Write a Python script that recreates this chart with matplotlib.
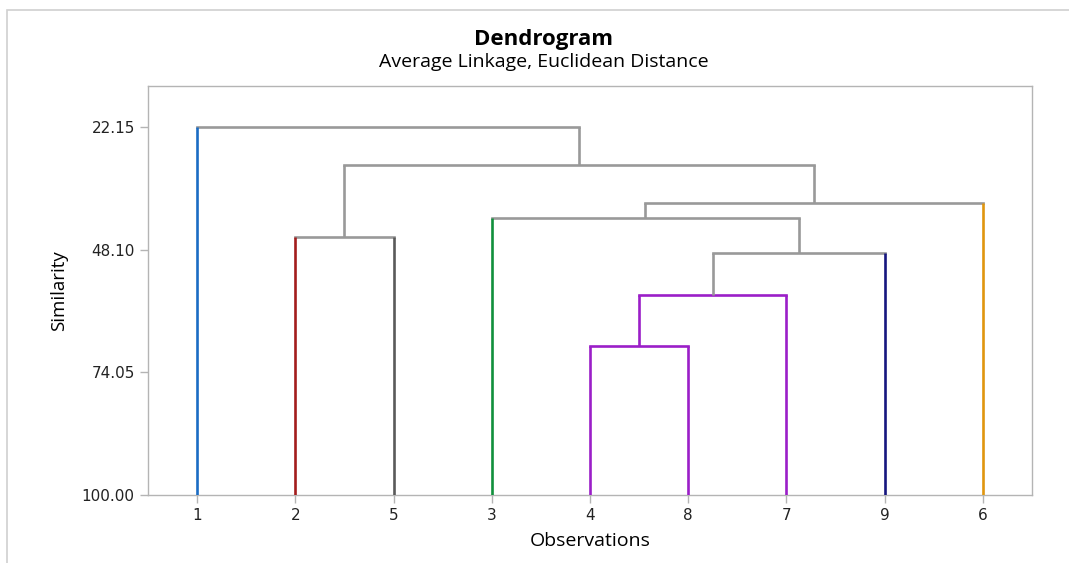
import matplotlib.pyplot as plt
from matplotlib.patches import Rectangle

# leaf order along the x axis
leaves = ['1', '2', '5', '3', '4', '8', '7', '9', '6']
leaf_colors = {'1': '#1a6cc4', '2': '#a31d1d', '5': '#5a5a5a', '3': '#11903c',
               '4': '#9b1ec8', '8': '#9b1ec8', '7': '#9b1ec8', '9': '#16167f',
               '6': '#e0960f'}

# merges: (left, right, similarity, colour of link); ids are leaf labels or 'cN'
merge_left = ['4', 'c0', 'c1', '3', '2', 'c3', 'c4', '1']
merge_right = ['8', '7', '9', 'c2', '5', '6', 'c5', 'c6']
merge_sim = [68.45, 57.70, 48.80, 41.40, 45.40, 38.20, 30.20, 22.15]
merge_color = ['#9b1ec8', '#9b1ec8', '#999999', '#999999', '#999999',
               '#999999', '#999999', '#999999']

yticks = [22.15, 48.10, 74.05, 100.00]

fig = plt.figure(figsize=(10.69, 5.63), dpi=100)
fig.patches.append(Rectangle((7 / 1069, -0.1), 1.2, 1 - 10 / 563 + 0.1,
                             transform=fig.transFigure, fill=False,
                             edgecolor='#d0d0d0', linewidth=1.2))
ax = fig.add_axes([148 / 1069, 1 - 495 / 563, (1032 - 148) / 1069, (495 - 86) / 563])

pos = {lab: i + 1 for i, lab in enumerate(leaves)}
height = {lab: 100.0 for lab in leaves}
lw = 1.9
for i in range(len(merge_sim)):
    a, b, s, c = merge_left[i], merge_right[i], merge_sim[i], merge_color[i]
    for k in (a, b):
        kc = leaf_colors[k] if k in leaf_colors else c
        ax.plot([pos[k], pos[k]], [height[k], s], color=kc, lw=lw,
                solid_capstyle='butt', zorder=3 if k in leaf_colors else 2)
    ax.plot([pos[a], pos[b]], [s, s], color=c, lw=lw, solid_capstyle='projecting', zorder=2)
    cid = 'c%d' % i
    pos[cid] = (pos[a] + pos[b]) / 2
    height[cid] = s

ax.set_xlim(0.5, 9.5)
ax.set_ylim(100, 13.48)
ax.set_xticks(range(1, 10))
ax.set_xticklabels(leaves)
ax.set_yticks(yticks)
ax.set_yticklabels(['%.2f' % v for v in yticks])
for sp in ax.spines.values():
    sp.set_color('#b4b4b4')
    sp.set_linewidth(1.0)
ax.tick_params(colors='#b4b4b4', labelcolor='#222222', labelsize=11, length=6, width=1)
for t in ax.get_xticklabels() + ax.get_yticklabels():
    t.set_fontfamily('DejaVu Sans')

ax.set_xlabel('Observations', fontsize=14, family='Open Sans', labelpad=6)
ax.set_ylabel('Similarity', fontsize=13.5, family='Open Sans', labelpad=10)
fig.text(544 / 1069, 1 - 39 / 563, 'Dendrogram', ha='center', va='center',
         fontsize=16, fontweight='bold', family='Open Sans')
fig.text(544 / 1069, 1 - 62 / 563, 'Average Linkage, Euclidean Distance', ha='center',
         va='center', fontsize=14, family='Open Sans')

fig.savefig('out.png', dpi=100)
